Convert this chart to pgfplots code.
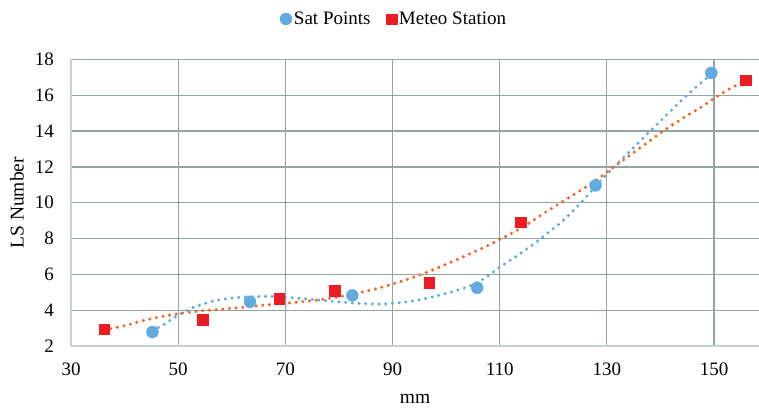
\documentclass[border=0pt]{standalone}
\usepackage{fontspec}
\setmainfont{Liberation Serif}
\usepackage{pgfplots}
\pgfplotsset{compat=1.18}
\definecolor{satblue}{HTML}{62ABE1}
\definecolor{metred}{HTML}{EC1C24}
\definecolor{trendor}{HTML}{F26522}
\definecolor{gridc}{HTML}{95A3A1}
\definecolor{axc}{HTML}{C8D1CF}
\begin{document}
\begin{tikzpicture}[x=1pt,y=1pt]
\useasboundingbox (0,0) rectangle (759,412);
\begin{axis}[
 at={(71pt,66pt)}, anchor=south west,
 scale only axis, width=688pt, height=286.5pt,
 xmin=30, xmax=158.4, ymin=2, ymax=18,
 xtick={30,50,...,150}, ytick={2,4,...,18},
 grid=major, major grid style={gridc, line width=1.3pt},
 axis x line*=bottom, axis y line*=left,
 axis line style={axc, line width=2pt, -},
 major tick length=0pt,
 clip=false,
 tick label style={font=\fontsize{19}{22}\selectfont, /pgf/number format/assume math mode=true},
 yticklabel style={inner sep=0pt, anchor=east, xshift=-17pt},
 xticklabel style={inner sep=0pt, anchor=north, yshift=-17pt},
 xlabel={mm}, ylabel={LS Number},
 label style={font=\fontsize{19.5}{22}\selectfont},
 xlabel style={at={(axis description cs:0.5,-0.185)}, anchor=center, inner sep=0pt},
 ylabel style={at={(axis description cs:-0.0785,0.5)}, anchor=center, inner sep=0pt},
 legend style={at={(0.4695,1.1414)}, anchor=center, draw=none, fill=none,
   legend columns=2, font=\fontsize{19}{22}\selectfont,
   /tikz/every even column/.append style={column sep=14pt}},
 legend cell align=left,
]
\addplot[only marks, mark=*, mark size=6pt, mark options={draw=satblue, fill=satblue}]
 coordinates {(45.2,2.78) (63.4,4.47) (82.5,4.83) (105.8,5.25) (127.9,10.97) (149.5,17.25)};
\addlegendentry{Sat Points}
\addplot[only marks, mark=square*, mark size=5.2pt, mark options={draw=metred, fill=metred}]
 coordinates {(36.2,2.95) (54.6,3.47) (68.9,4.64) (79.25,5.09) (96.9,5.53) (113.9,8.92) (155.9,16.83)};
\addlegendentry{Meteo Station}
\addplot[forget plot, smooth, satblue, line width=3.4pt, line cap=round, dash pattern=on 0pt off 6.7pt]
 coordinates {(45.2,2.85) (46.6,3.08) (47.9,3.30) (49.4,3.62) (51.3,3.93) (53.1,4.19) (55.3,4.40) (57.2,4.55)
 (61.5,4.72) (67,4.77) (72.7,4.66) (78.3,4.51) (83.9,4.38) (87.6,4.34) (90.8,4.40) (93.9,4.52)
 (97,4.71) (100.1,4.94) (103.2,5.22) (106,5.57) (108.2,6.0) (110,6.4) (112.5,6.89) (114.4,7.28)
 (116.9,7.82) (118.7,8.25) (121.8,9.0) (125,9.95) (127.4,10.75) (130,11.6) (131.2,11.97)
 (133.7,12.7) (138.6,14.15) (143.7,15.65) (147.4,16.65) (149.5,17.15)};
\addplot[forget plot, smooth, trendor, line width=3.4pt, line cap=round, dash pattern=on 0pt off 6.7pt]
 coordinates {(36.2,2.90) (39.8,3.12) (43.5,3.42) (47.2,3.66) (51.0,3.85) (54.7,3.97) (58.4,4.06)
 (62.1,4.16) (65.9,4.28) (69.6,4.38) (73.3,4.48) (77.1,4.61) (80.8,4.79) (84.5,5.02) (87.6,5.25)
 (91.5,5.6) (95.7,6.03) (99.5,6.5) (103.2,6.98) (106.3,7.4) (109.4,7.85) (113.8,8.55) (116.2,9.0)
 (118.7,9.5) (121.5,10.02) (123.7,10.43) (126.2,10.9) (128.7,11.41) (131.2,11.97) (133.7,12.52)
 (138.0,13.45) (140.5,14.0) (144.6,14.8) (147.4,15.3) (151.7,16.15) (155.8,16.82)};
\end{axis}
\end{tikzpicture}
\end{document}
